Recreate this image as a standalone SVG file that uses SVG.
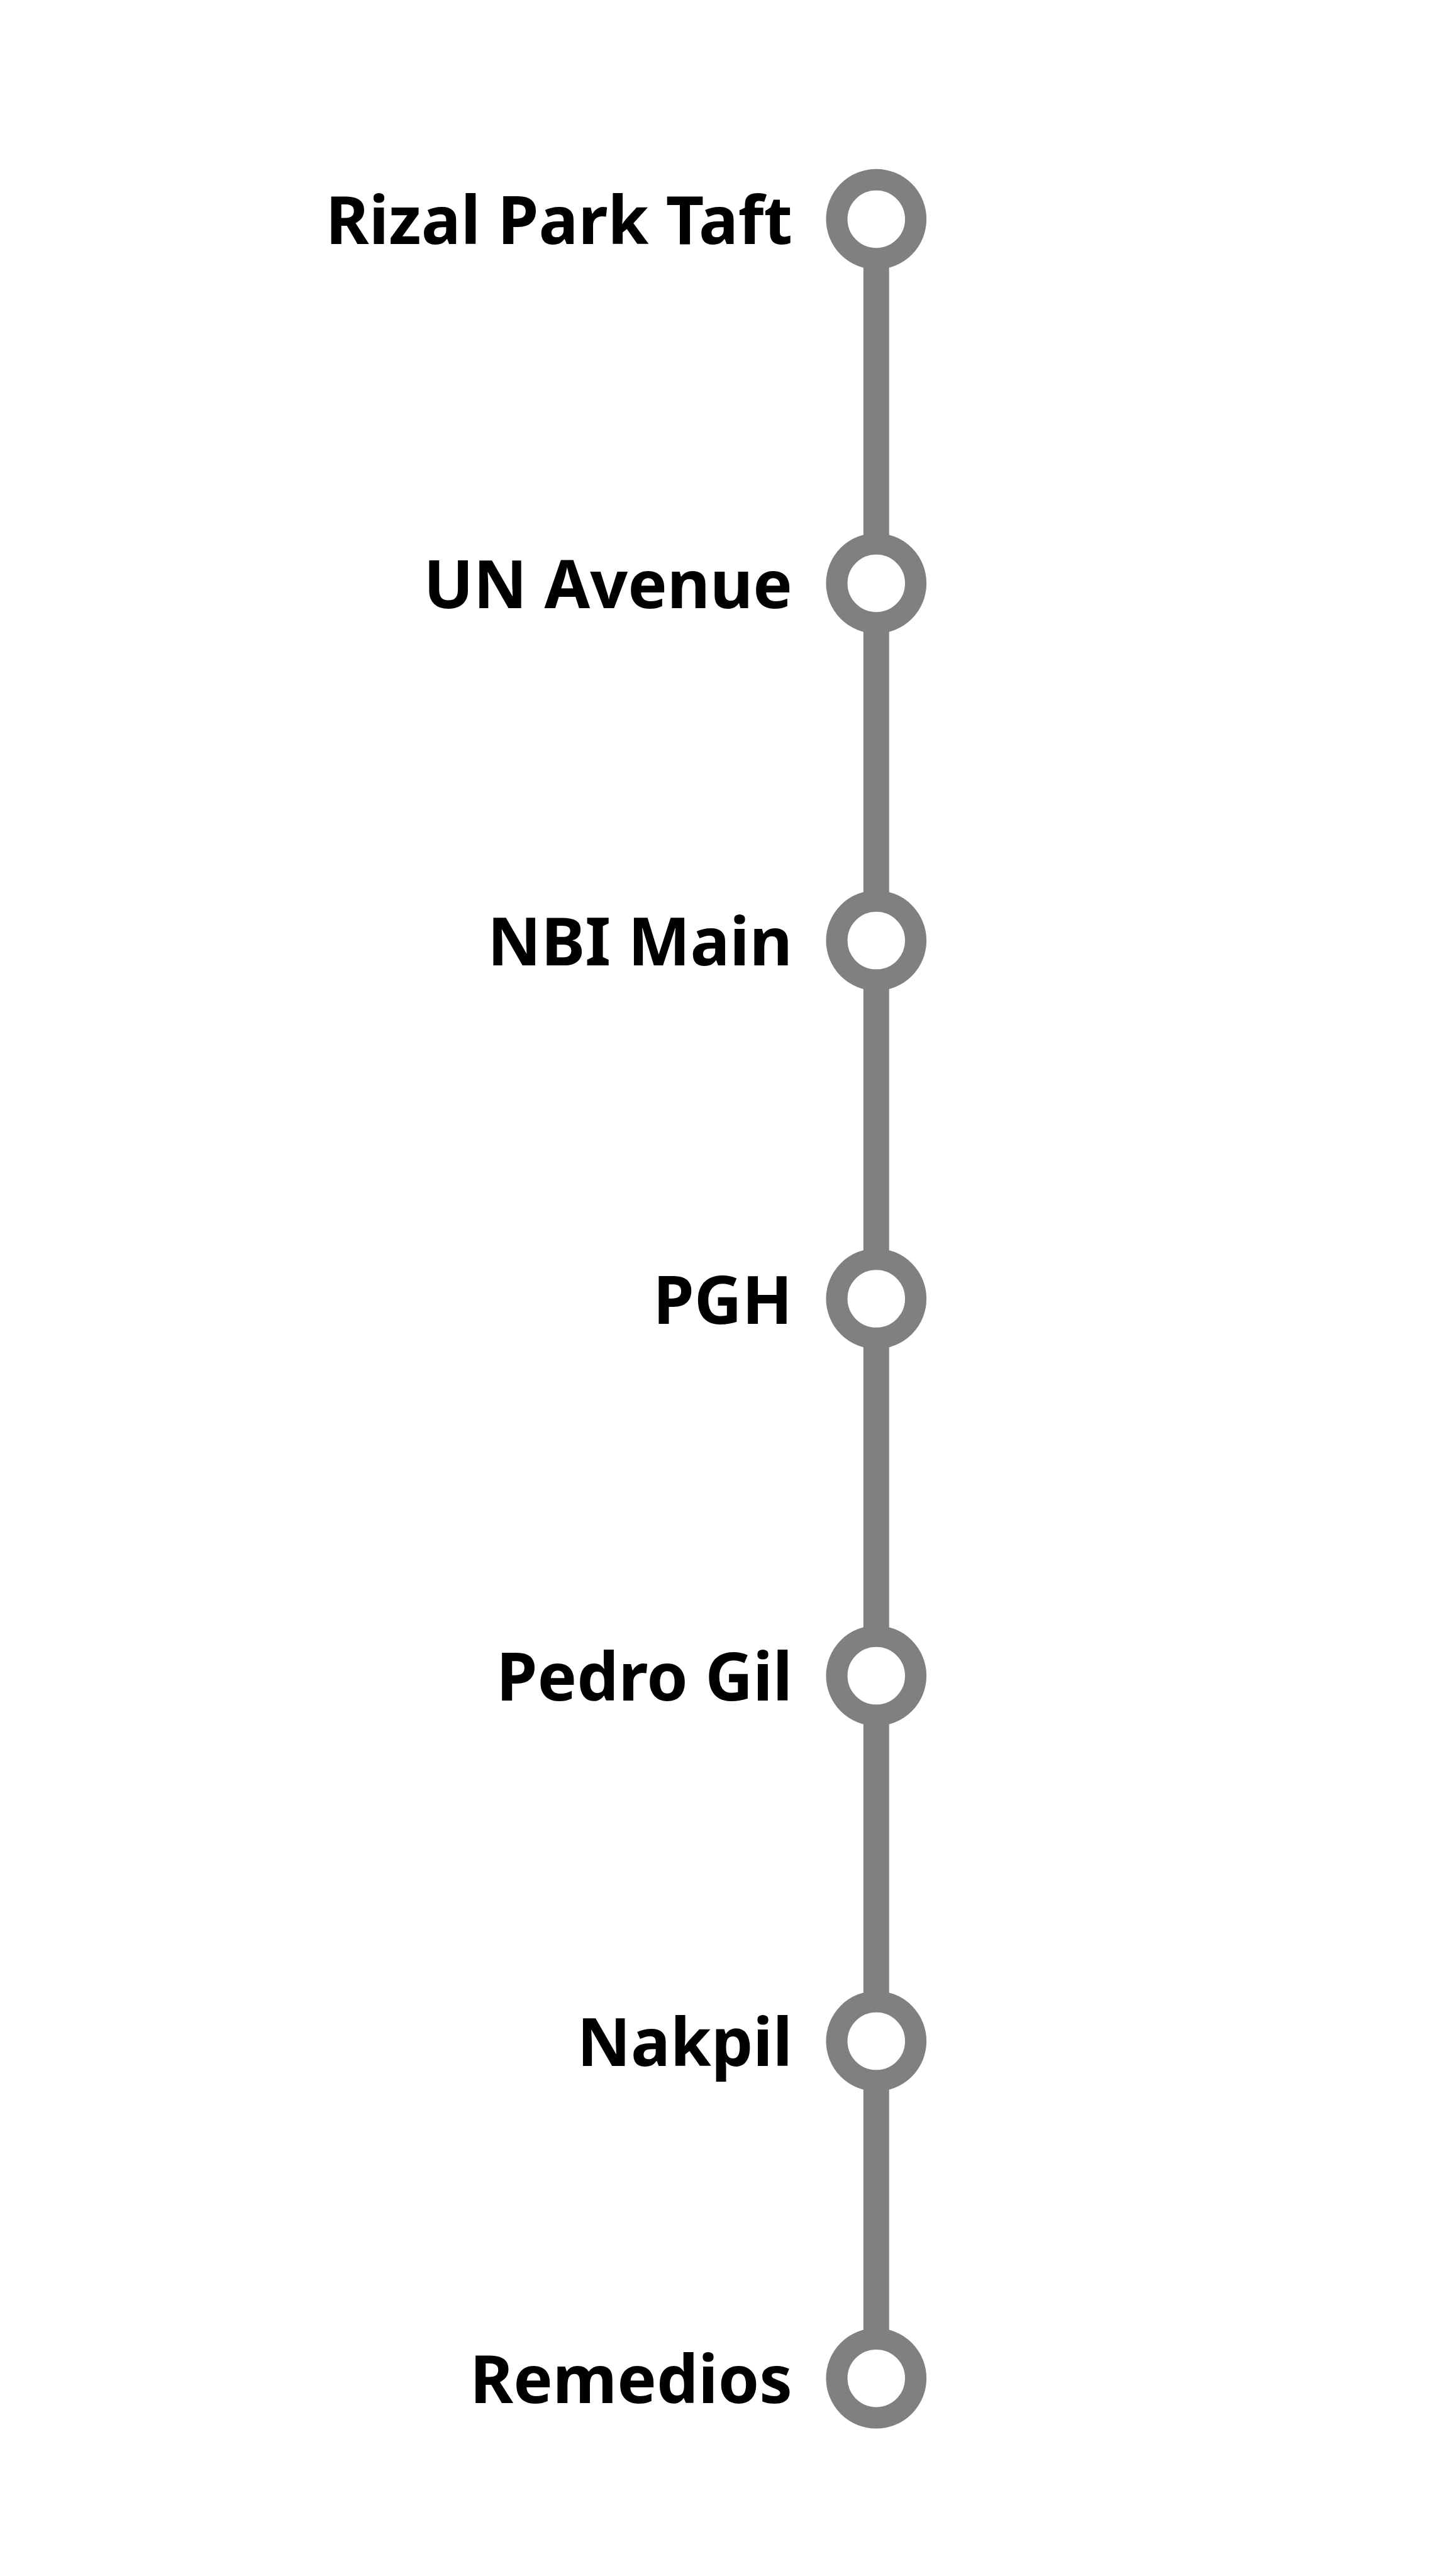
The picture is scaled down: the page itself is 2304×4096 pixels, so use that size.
<svg xmlns="http://www.w3.org/2000/svg" width="2304" height="4096" viewBox="0 0 2304 4096">
<style>
.stn{fill:#ffffff;stroke:#808080;stroke-width:34.1}
.lbl{font-family:"Noto Sans","Open Sans",sans-serif;font-weight:700;font-size:105px;fill:#000000;text-anchor:end}
.track{stroke:#808080;stroke-width:40.9;fill:none}
</style>
<rect width="2304" height="4096" fill="#ffffff"/>
<g id="connectors">
<line class="track" x1="1393.3" y1="348.5" x2="1393.3" y2="3781.7"/>
</g>
<g id="rizal-park-taft"><circle class="stn" cx="1393.3" cy="348.5" r="62.8"/><text class="lbl" x="1260" y="388.2">Rizal Park Taft</text></g>
<g id="un-avenue"><circle class="stn" cx="1393.3" cy="927.5" r="62.8"/><text class="lbl" x="1260" y="967.2">UN Avenue</text></g>
<g id="nbi-main"><circle class="stn" cx="1393.3" cy="1495.6" r="62.8"/><text class="lbl" x="1260" y="1535.3">NBI Main</text></g>
<g id="pgh"><circle class="stn" cx="1393.3" cy="2065.1" r="62.8"/><text class="lbl" x="1260" y="2104.8">PGH</text></g>
<g id="pedro-gil"><circle class="stn" cx="1393.3" cy="2664.6" r="62.8"/><text class="lbl" x="1260" y="2704.3">Pedro Gil</text></g>
<g id="nakpil"><circle class="stn" cx="1393.3" cy="3245.6" r="62.8"/><text class="lbl" x="1260" y="3285.3">Nakpil</text></g>
<g id="remedios"><circle class="stn" cx="1393.3" cy="3781.7" r="62.8"/><text class="lbl" x="1260" y="3821.4">Remedios</text></g>
</svg>
